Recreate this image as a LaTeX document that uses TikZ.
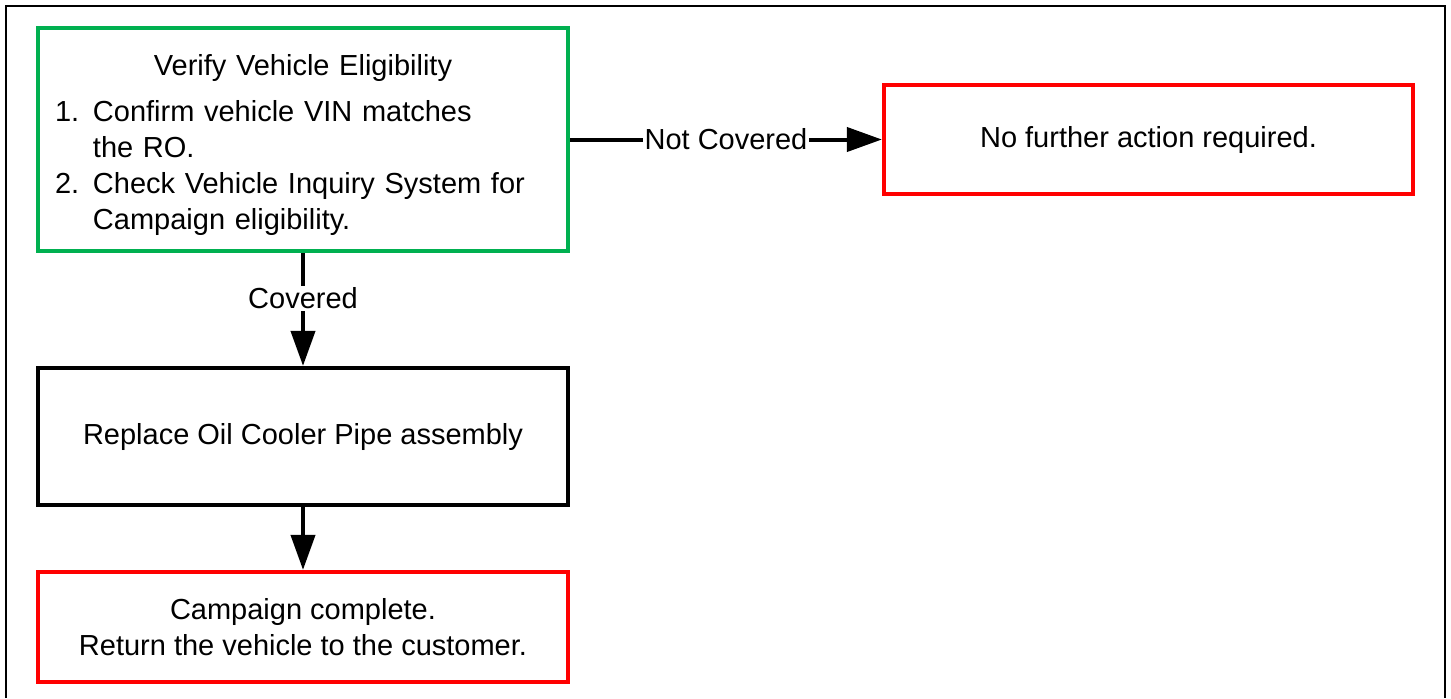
\documentclass[tikz,border=0pt]{standalone}
\usepackage{xcolor}
\usepackage{fontspec}
\setmainfont{Liberation Sans}
\usepackage{tikz}
\usetikzlibrary{calc}
\usetikzlibrary{arrows.meta,positioning}
\definecolor{vgreen}{HTML}{00B050}
\definecolor{vred}{HTML}{FF0000}
\tikzset{stepbox/.style={draw,line width=0.085cm,minimum width=10.6cm,inner sep=0.3cm,font=\fontsize{16.5pt}{20.5pt}\selectfont},
	flow/.style={line width=0.08cm,-{Triangle[length=0.7cm,width=0.48cm]}},
	flowlabel/.style={fill=white,inner sep=1pt,font=\fontsize{16.5pt}{19pt}\selectfont}}
\begin{document}
\begin{tikzpicture}[transform shape,scale=1]
		\useasboundingbox (0,0) rectangle (29.02,-13.96);
		\draw[line width=0.04cm] (0.12,-13.96)--(0.12,-0.12)--(28.9,-0.12)--(28.9,-13.96);
	\node[stepbox,draw=vgreen,minimum height=4.46cm,text width=9.92cm,align=left] (verify) at (6.06,-2.79) {{\centering\rule{0pt}{0.63cm}Verify Vehicle Eligibility\par}\vspace{0.2cm}
		\noindent\makebox[0.76cm][l]{1.}Confirm vehicle VIN matches\par
		\noindent\hspace*{0.76cm}the RO.\par
		\noindent\makebox[0.76cm][l]{2.}Check Vehicle Inquiry System for\par
		\noindent\hspace*{0.76cm}Campaign eligibility.\par};
	\node[stepbox,draw=vred,minimum width=10.58cm,minimum height=2.18cm] (nofurther) at (22.97,-2.79) {No further action required.};
		\node[stepbox,draw=black,minimum height=2.74cm] (replace) at (6.06,-8.73) {Replace Oil Cooler Pipe assembly};
	\node[stepbox,draw=vred,minimum height=2.2cm,align=center] (complete) at (6.06,-12.54) {Campaign complete.\\Return the vehicle to the customer.};
		\draw[flow] (verify)--(nofurther) node[flowlabel,midway] {Not Covered};
		\draw[flow] (verify)--(replace) node[flowlabel,pos=0.4] {Covered};
			\draw[flow] (replace)--(complete);
	\end{tikzpicture}
\end{document}
